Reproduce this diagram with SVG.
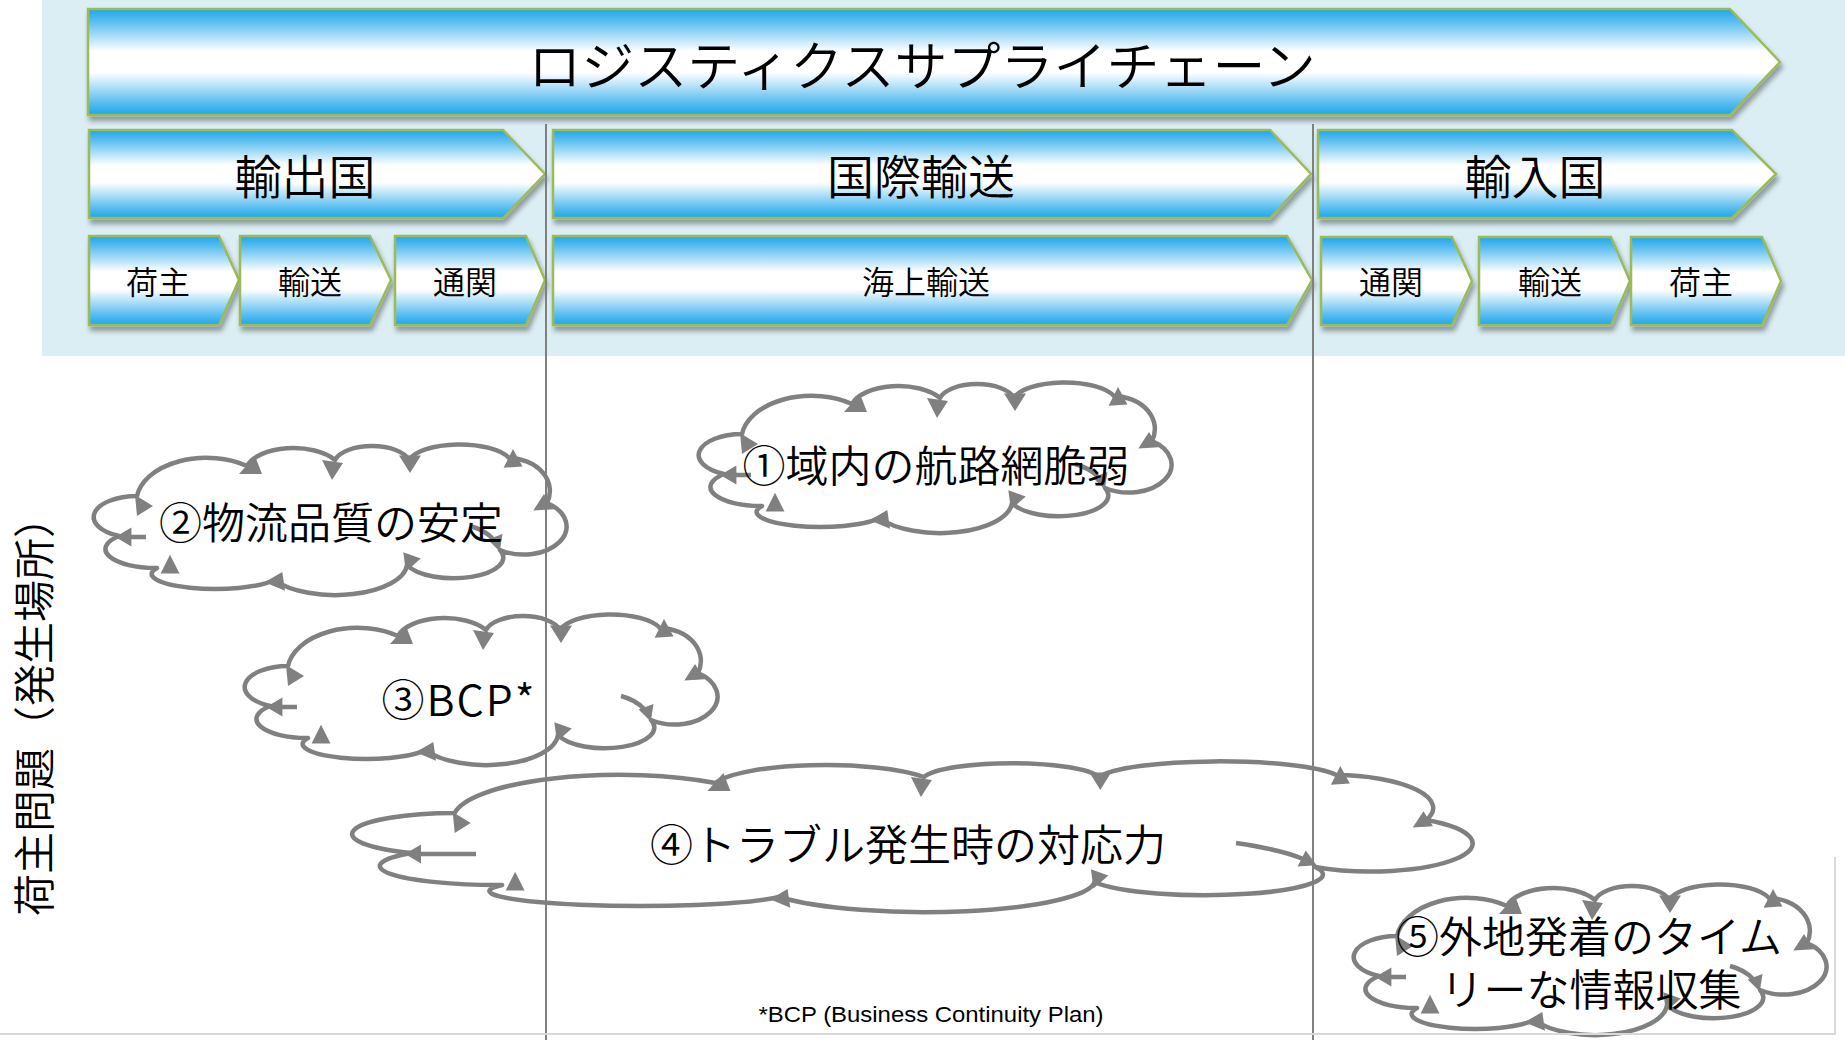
<svg xmlns="http://www.w3.org/2000/svg" xmlns:xlink="http://www.w3.org/1999/xlink" width="1845" height="1040" viewBox="0 0 1845 1040">
<style>
.chev{fill:url(#bg);stroke:#9bbb59;stroke-width:2.5;filter:url(#sh)}
.t{font-family:"Noto Sans CJK JP","Noto Sans",sans-serif;font-weight:350;fill:#000;text-anchor:middle}
.cl{fill:#fff;stroke:#808080;stroke-width:4.5;stroke-linejoin:round}
.cin{fill:none;stroke:#808080;stroke-width:4.5}
.ah{fill:#808080;stroke:none}
.guide{stroke:#808080;stroke-width:2;fill:none}
.frame{stroke:#d9d9d9;stroke-width:2;fill:none}
</style>
<defs>
<linearGradient id="bg" x1="0" y1="0" x2="0" y2="1">
<stop offset="0" stop-color="#1ca6ea"/>
<stop offset="0.12" stop-color="#5bbef0"/>
<stop offset="0.4" stop-color="#ffffff"/>
<stop offset="0.6" stop-color="#ffffff"/>
<stop offset="0.88" stop-color="#5bbef0"/>
<stop offset="1" stop-color="#1ca6ea"/>
</linearGradient>
<filter id="sh" x="-5%" y="-10%" width="115%" height="140%">
<feDropShadow dx="2" dy="5" stdDeviation="2.5" flood-color="#000" flood-opacity="0.35"/>
</filter>
<g id="cloud">
<path class="cl" d="M45 51 A70 44 0 0 1 155 21 A48 24 0 0 1 243 15 A38 18 0 0 1 317 15 A52 20 0 0 1 417 13 A42 33 0 0 1 455 58 A43 28 0 0 1 408 105 A48 20 0 0 1 315 120 A72 32 0 0 1 182 135 A60 14 0 0 1 65 123 A50 19 0 0 1 27 91 A44 21 0 0 1 45 51 Z"/>
<path class="cin" d="M378 81 Q393 85 401 94 M54 92 L38 92"/>
<path class="ah" d="M61 61 L43 50 L45 71Z M147 29 L163 11 L170 29Z M240 35 L230 15 L251 18Z M318 28 L307 10.5 L329 10.5Z M421 4 L411.6 22.8 L430.5 21.4Z M452 49 L441.3 65.5 L461.6 64.2Z M407.8 106.6 L395.6 94.4 L410.5 89Z M328.8 113.5 L311.3 107.3 L313.9 126.4Z M172.7 137.2 L190.3 126.9 L193 145.8Z M78 109.7 L68.6 128.6 L87.5 128.6Z M23.2 92 L39.4 82.6 L39.4 101.4Z"/>
</g>
</defs>

<rect x="42" y="0" width="1803" height="356" fill="#daeef3"/>

<g id="supply-chain">
<polygon class="chev" points="88,9 1730,9 1780,62 1730,115 88,115"/>
<text class="t" x="922" y="86" font-size="53">ロジスティクスサプライチェーン</text>
</g>
<g id="export-country">
<polygon class="chev" points="89,130 503,130 545,174 503,218 89,218"/>
<text class="t" x="305" y="194" font-size="47">輸出国</text>
</g>
<g id="intl-transport">
<polygon class="chev" points="553,130 1270,130 1311,174 1270,218 553,218"/>
<text class="t" x="921" y="194" font-size="47">国際輸送</text>
</g>
<g id="import-country">
<polygon class="chev" points="1318,130 1732,130 1776,174 1732,218 1318,218"/>
<text class="t" x="1535" y="194" font-size="47">輸入国</text>
</g>
<g id="shipper-ex">
<polygon class="chev" points="89,236 219,236 239,280 219,325 89,325"/>
<text class="t" x="158" y="294" font-size="32">荷主</text>
</g>
<g id="transport-ex">
<polygon class="chev" points="240,236 370,236 391,280 370,325 240,325"/>
<text class="t" x="310" y="294" font-size="32">輸送</text>
</g>
<g id="customs-ex">
<polygon class="chev" points="395,236 526,236 545,280 526,325 395,325"/>
<text class="t" x="465" y="294" font-size="32">通関</text>
</g>
<g id="sea-transport">
<polygon class="chev" points="553,236 1287,236 1312,280 1287,325 553,325"/>
<text class="t" x="926" y="294" font-size="32">海上輸送</text>
</g>
<g id="customs-im">
<polygon class="chev" points="1321,237 1452,237 1472,281 1452,325 1321,325"/>
<text class="t" x="1391" y="294" font-size="32">通関</text>
</g>
<g id="transport-im">
<polygon class="chev" points="1479,237 1611,237 1630,281 1611,325 1479,325"/>
<text class="t" x="1550" y="294" font-size="32">輸送</text>
</g>
<g id="shipper-im">
<polygon class="chev" points="1631,237 1762,237 1781,281 1762,325 1631,325"/>
<text class="t" x="1701" y="294" font-size="32">荷主</text>
</g>

<g id="cloud1">
<use xlink:href="#cloud" transform="translate(697,383)"/>
<text class="t" x="936" y="482" font-size="43">①域内の航路網脆弱</text>
</g>
<g id="cloud2">
<use xlink:href="#cloud" transform="translate(92,445)"/>
<text class="t" x="331" y="539" font-size="43">②物流品質の安定</text>
</g>
<g id="cloud3">
<use xlink:href="#cloud" transform="translate(243,615)"/>
<text class="t" x="459" y="716" font-size="43" letter-spacing="2">③BCP*</text>
</g>
<g id="cloud4">
<g transform="translate(348,762)">
<path class="cl" d="M106.7 51 A165.9 44 0 0 1 367.4 21 A113.8 24 0 0 1 575.9 15 A90.1 18 0 0 1 751.3 15 A123.2 20 0 0 1 988.3 13 A99.5 33 0 0 1 1078.4 58 A101.9 28 0 0 1 967 105 A113.8 20 0 0 1 746.6 120 A170.6 32 0 0 1 431.3 135 A142.2 14 0 0 1 154.1 123 A118.5 19 0 0 1 64 91 A104.3 21 0 0 1 106.7 51 Z"/>
<path class="cin" d="M888 81 Q935 88 955 97 M128 92 L72 92"/>
<path class="ah" d="M122.7 61 L104.7 50 L106.7 71Z M359.4 29 L375.4 11 L382.4 29Z M572.9 35 L562.9 15 L583.9 18Z M752.3 28 L741.5 10.5 L763.1 10.5Z M992.3 4 L982.9 22.8 L1001.8 21.4Z M1075.5 49.3 L1064.7 65.5 L1085 64.2Z M968.6 103.2 L949.6 104.6 L957.7 88.4Z M760.4 113.5 L742.9 107.3 L745.5 126.4Z M422 137.2 L439.6 126.9 L442.3 145.8Z M167.1 109.7 L157.7 128.6 L176.6 128.6Z M57 92 L73 82.6 L73 101.4Z"/>
</g>
<text class="t" x="908" y="861" font-size="43">④トラブル発生時の対応力</text>
</g>
<g id="cloud5">
<use xlink:href="#cloud" transform="translate(1352,885)"/>
<text class="t" font-size="43"><tspan x="1589" y="953">⑤外地発着のタイム</tspan><tspan x="1591" y="1006">リーな情報収集</tspan></text>
</g>

<g id="guides">
<line class="guide" x1="546" y1="124" x2="546" y2="1040"/>
<line class="guide" x1="1313" y1="124" x2="1313" y2="1040"/>
<line class="frame" x1="0" y1="1034" x2="1836" y2="1034"/>
<line class="frame" x1="1835" y1="857" x2="1835" y2="1034"/>
</g>

<g id="axis-label">
<text class="t" font-size="42" transform="translate(34,706) rotate(-90)" x="0" y="16">荷主問題（発生場所）</text>
</g>
<g id="footnote">
<text x="931" y="1022" font-family="Liberation Sans, Arial, sans-serif" font-size="22" text-anchor="middle" textLength="345" lengthAdjust="spacingAndGlyphs" fill="#000">*BCP (Business Continuity Plan)</text>
</g>
</svg>
